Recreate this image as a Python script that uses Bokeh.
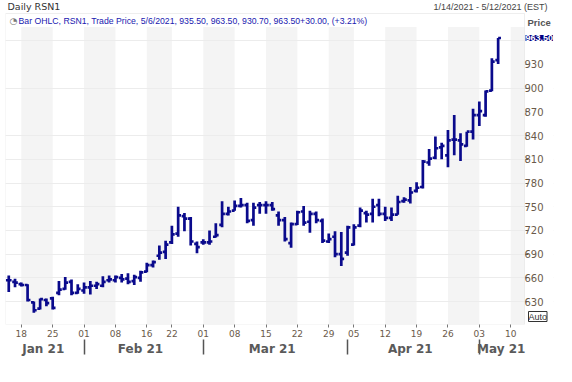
import pandas as pd
from bokeh.plotting import figure
from bokeh.models import FixedTicker, LinearAxis, Range1d, Label, BoxAnnotation, ColumnDataSource
from bokeh.transform import dodge
from bokeh.embed import file_html
from bokeh.resources import INLINE

# trading days shown on the axis (Jan 14 - May 12, 2021)
axis_dates = pd.bdate_range("2021-01-14", "2021-05-12")
holidays = ["2021-02-15", "2021-04-02"]
axis_dates = [d for d in axis_dates if d.strftime("%Y-%m-%d") not in holidays]

# OHLC values (Jan 14 - May 6, 2021)
opens = [657, 655, 652, 651, 629, 621, 632, 634, 641, 646,
         655, 641, 644, 648, 650, 650, 657, 657, 660, 659,
         656, 660, 668, 676, 688, 693, 705, 716, 738, 735,
         703, 705, 705, 712, 727, 741, 745, 751, 752, 733,
         752, 752, 752, 739, 733, 704, 728, 744, 731, 741,
         732, 706, 712, 690, 692, 702, 726, 742, 741, 752,
         741, 736, 740, 757, 758, 770, 775, 806, 812, 825,
         815, 835, 834, 827, 845, 866, 866, 897, 935.5]
highs = [663, 659, 654, 652, 630, 634, 634, 636, 656, 661,
         658, 652, 654, 656, 655, 662, 663, 663, 665, 666,
         664, 669, 679, 682, 701, 707, 726, 750, 742, 737,
         706, 709, 720, 729, 757, 750, 758, 761, 755, 755,
         756, 757, 756, 744, 737, 730, 745, 751, 745, 744,
         735, 716, 719, 718, 726, 728, 749, 745, 760, 760,
         750, 749, 764, 762, 775, 781, 809, 823, 839, 831,
         847, 866, 843, 845, 874, 883, 897, 938, 963.5]
lows = [642, 648, 649, 630, 616, 620, 624, 620, 638, 645,
        638, 640, 640, 639, 646, 648, 654, 654, 654, 652,
        651, 655, 667, 673, 683, 684, 703, 712, 719, 701,
        691, 702, 702, 711, 724, 739, 745, 749, 729, 726,
        741, 741, 745, 726, 706, 698, 727, 726, 717, 729,
        704, 704, 686, 675, 688, 701, 724, 730, 730, 738,
        732, 732, 740, 755, 754, 768, 773, 802, 810, 810,
        800, 815, 808, 826, 835, 852, 864, 896, 930.7]
closes = [657, 654, 651, 632, 619, 633, 628, 622, 645, 654,
          641, 646, 648, 650, 652, 655, 658, 661, 658, 655,
          661, 667, 676, 680, 692, 702, 715, 739, 735, 706,
          699, 705, 706, 714, 741, 744, 751, 752, 732, 749,
          752, 752, 747, 733, 709, 728, 743, 730, 741, 733,
          707, 709, 690, 684, 724, 724, 745, 740, 750, 741,
          736, 740, 756, 759, 768, 774, 807, 811, 824, 827,
          834, 835, 829, 845, 866, 871, 896, 933.5, 963.5]

y_ticks = [630, 660, 690, 720, 750, 780, 810, 840, 870, 900, 930]
y_grid = [630, 660, 690, 720, 750, 780, 810, 840, 900, 960]
month_names = ["Jan 21", "Feb 21", "Mar 21", "Apr 21", "May 21"]
title_text = "Daily RSN1"
range_text = "1/14/2021 - 5/12/2021 (EST)"
legend_text = "Bar OHLC, RSN1, Trade Price, 5/6/2021, 935.50, 963.50, 930.70, 963.50+30.00, (+3.21%)"

NAVY = "#0a0a8c"
TICKC = "#6a5a4a"
BORDER = "#c8c8c8"
W, H = 556, 366

n = len(axis_dates)
idx = list(range(len(opens)))
src = ColumnDataSource(dict(x=idx, o=opens, h=highs, l=lows, c=closes))

# week starts
week_idx, week_lbl = [], []
prev_week = None
for i, d in enumerate(axis_dates):
    wk = d.isocalendar()[1]
    if wk != prev_week:
        if i > 0:
            week_idx.append(i)
            week_lbl.append(d.strftime("%d"))
        prev_week = wk
# month starts / centers
month_start, month_center = [], []
months = [d.month for d in axis_dates]
for m in sorted(set(months)):
    ii = [i for i, mm in enumerate(months) if mm == m]
    if ii[0] > 0:
        month_start.append(ii[0])
    month_center.append((ii[0] + ii[-1]) / 2)

# layout geometry (pixels)
B_LEFT, B_TOP, B_RIGHT, B_BOTTOM = 5, 2, 3, 42
frame_w = W - B_LEFT - B_RIGHT
frame_h = H - B_TOP - B_BOTTOM
data_w = 519          # width of the price area, rest is the price scale
top_strip = 11        # title strip above the price area

# data area ranges
x0, x1 = -0.52, n - 1 + 0.2
y0, y1 = 601.0, 994.5
# extended ranges so the margins live inside the frame
xe = x0 + (x1 - x0) * frame_w / data_w
f = top_strip / frame_h
ye = (y1 - y0 * f) / (1 - f)

p = figure(width=W, height=H, x_range=Range1d(x0, xe), y_range=Range1d(y0, ye),
           y_axis_location="right", output_backend="svg", toolbar_location=None,
           min_border_left=B_LEFT, min_border_top=B_TOP, min_border_right=B_RIGHT,
           min_border_bottom=B_BOTTOM)
p.outline_line_color = None
p.background_fill_color = "white"
p.border_fill_color = "white"

# alternating week shading
band_l, band_r = [], []
starts = week_idx + [x1]
for k in range(0, len(week_idx), 2):
    band_l.append(week_idx[k])
    band_r.append(starts[k + 1])
p.quad(left=band_l, right=band_r, bottom=y0, top=y1, fill_color="#f4f4f4",
       line_color=None, level="underlay")

p.xgrid.visible = False
p.ygrid.ticker = FixedTicker(ticks=y_grid)
p.ygrid.grid_line_color = "#ececec"
p.ygrid.level = "underlay"

# white legend strip, white price-scale area, and the price-area border
p.add_layout(BoxAnnotation(bottom=977.5, fill_color="white", fill_alpha=1.0, line_color=None, level="underlay"))
p.add_layout(BoxAnnotation(left=x1, fill_color="white", fill_alpha=1.0, line_color=None, level="underlay"))
p.add_layout(BoxAnnotation(left=x0, right=x1, bottom=y0, top=y1, fill_alpha=0.0,
                           line_color=BORDER, line_width=1, level="underlay"))

# OHLC bars
p.segment(x0="x", y0="l", x1="x", y1="h", source=src, line_color=NAVY, line_width=2.7)
p.segment(x0=dodge("x", -0.45), y0="o", x1="x", y1="o", source=src, line_color=NAVY, line_width=2.7)
p.segment(x0="x", y0="c", x1=dodge("x", 0.45), y1="c", source=src, line_color=NAVY, line_width=2.7)

# price axis: labels drawn back into the strip right of the price area
ya = p.yaxis[0]
ya.ticker = FixedTicker(ticks=y_ticks, minor_ticks=y_ticks)
ya.axis_line_color = None
ya.major_tick_line_color = None
ya.major_tick_in = 0
ya.major_tick_out = 0
ya.minor_tick_in = 28
ya.minor_tick_out = -25
ya.minor_tick_line_color = TICKC
ya.major_label_text_font = "DejaVu Sans"
ya.major_label_text_font_size = "10px"
ya.major_label_text_color = TICKC
ya.major_label_standoff = -29

xa = p.xaxis[0]
xa.ticker = FixedTicker(ticks=week_idx)
xa.major_label_overrides = {i: l for i, l in zip(week_idx, week_lbl)}
xa.axis_line_color = None
xa.major_tick_in = 0
xa.major_tick_out = 3
xa.minor_tick_out = 0
xa.major_tick_line_color = "#777777"
xa.minor_tick_line_color = None
xa.major_label_text_font = "DejaVu Sans"
xa.major_label_text_font_size = "9px"
xa.major_label_text_color = TICKC
xa.major_label_standoff = 2

ma = LinearAxis(ticker=FixedTicker(ticks=month_center, minor_ticks=month_start),
                major_label_overrides={c: m for c, m in zip(month_center, month_names)})
ma.axis_line_color = None
ma.major_tick_line_color = None
ma.major_tick_in = 0
ma.major_tick_out = 0
ma.minor_tick_in = -15
ma.minor_tick_out = 0
ma.minor_tick_line_color = "#555555"
ma.minor_tick_line_width = 1.5
ma.major_label_text_font = "DejaVu Sans"
ma.major_label_text_font_style = "bold"
ma.major_label_text_font_size = "12px"
ma.major_label_text_color = "#5a5a5a"
ma.major_label_standoff = 2
p.add_layout(ma, "below")

# texts
p.add_layout(Label(x=x0, y=y1, x_offset=2, y_offset=2, text=title_text, text_font="DejaVu Sans",
                   text_font_size="9.5px", text_color="#333333", text_baseline="bottom"))
p.add_layout(Label(x=xe, y=y1, x_offset=-6, y_offset=2, text=range_text, text_font="Liberation Sans",
                   text_font_size="9px", text_color="#444444", text_baseline="bottom", text_align="right"))
p.add_layout(Label(x=x0, y=y1, x_offset=4, y_offset=-2, text="\u25d4", text_font="DejaVu Sans",
                   text_font_size="9px", text_color="#777777", text_baseline="top"))
p.add_layout(Label(x=x0, y=y1, x_offset=13, y_offset=-2, text=legend_text, text_font="Liberation Sans",
                   text_font_size="8.7px", text_color="#2020b0", text_baseline="top"))
p.add_layout(Label(x=x1, y=y1, x_offset=3, y_offset=-3, text="Price", text_font="Liberation Sans",
                   text_font_size="9.5px", text_font_style="bold", text_color="#555555", text_baseline="top"))
p.add_layout(Label(x=x1, y=closes[-1], x_offset=1, text="%.2f" % closes[-1], text_font="Liberation Sans",
                   text_font_size="9px", text_font_style="bold", text_color="white",
                   background_fill_color="#000080", text_baseline="middle"))
p.add_layout(Label(x=x1, y=y0, x_offset=4, y_offset=3, text="Auto", text_font="Liberation Sans",
                   text_font_size="9px", text_color="#333333", text_baseline="bottom",
                   border_line_color="#333333", background_fill_color="white"))

open("out.html", "w").write(file_html(p, INLINE))
